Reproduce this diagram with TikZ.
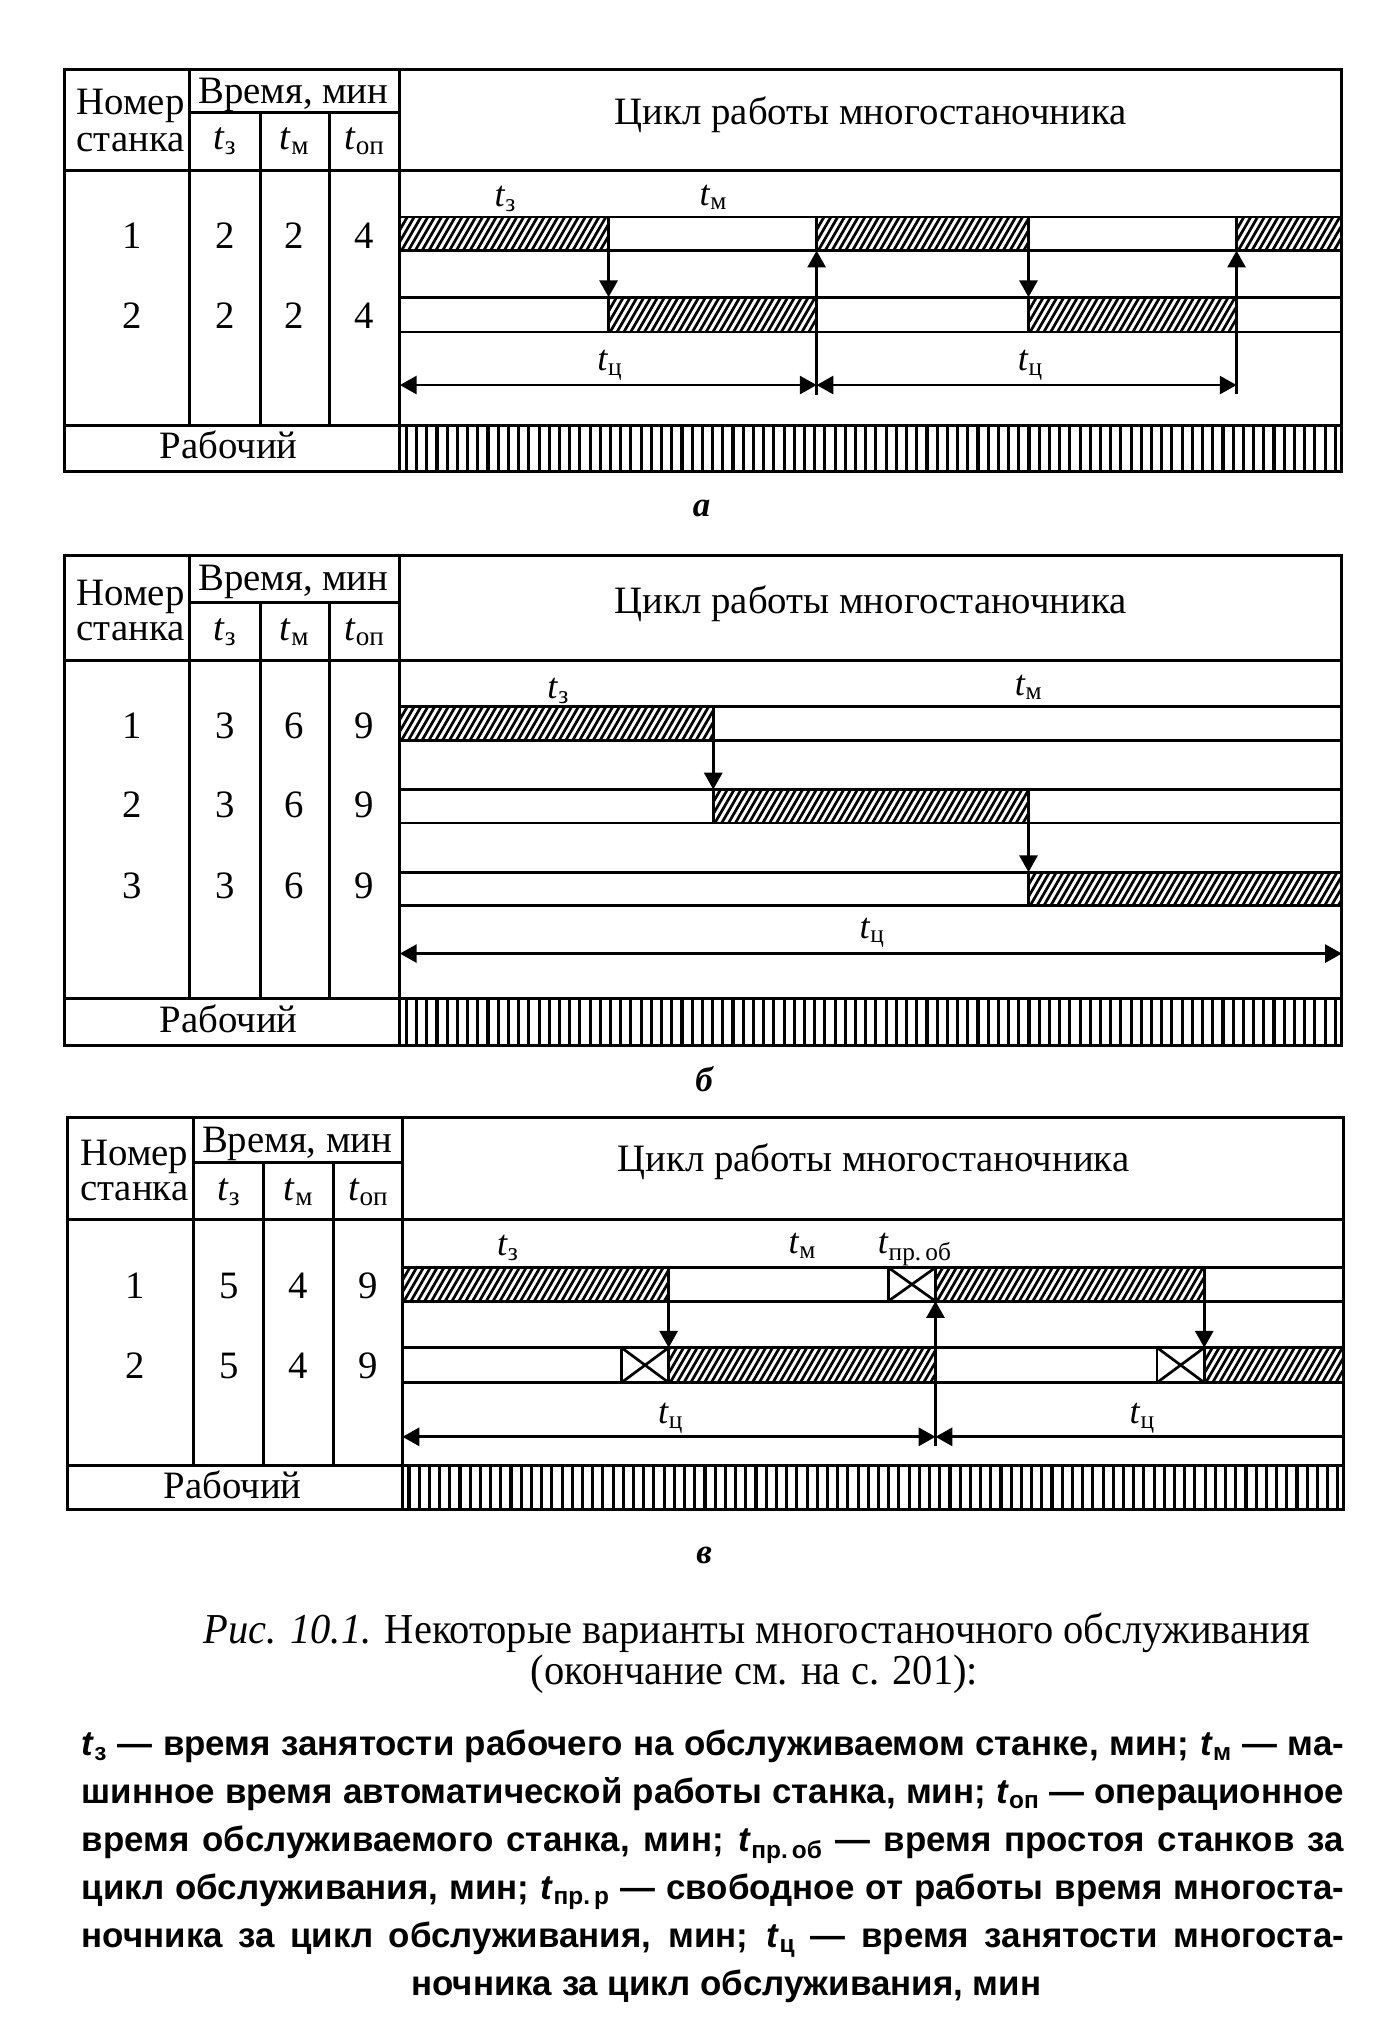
\documentclass[tikz,border=0pt]{standalone}
\usepackage{fontspec}
\setmainfont{Liberation Serif}
\newfontfamily\legfont{Liberation Sans}
\newfontfamily\capfont[FakeStretch=0.95]{Liberation Serif}
\usetikzlibrary{arrows.meta}

\newcommand\tsb[1]{\textit{t}\textsubscript{#1}}

\tikzset{
  frame/.style={line width=2.4pt},
  gl/.style={line width=2.1pt},
  arr/.style={line width=2.1pt,-{Triangle[length=13pt,width=14pt]}},
  darr/.style={line width=2.1pt,{Triangle[length=13pt,width=14pt]}-{Triangle[length=13pt,width=14pt]}},
  tab/.style={font=\fontsize{30}{32}\selectfont, inner sep=0pt, anchor=base},
  lab/.style={font=\fontsize{28}{30}\selectfont, inner sep=0pt, anchor=base},
  plet/.style={font=\fontsize{27}{29}\selectfont\bfseries\itshape, inner sep=0pt, anchor=base},
  leg/.style={font=\legfont\bfseries\fontsize{27}{37}\selectfont, inner sep=0pt, anchor=base west},
  capt/.style={font=\capfont\fontsize{33}{36}\selectfont, inner sep=0pt, anchor=base},
}

% hatched bar: x1 x2 y1(top) y2(bottom)
\newcommand\hatchbar[4]{%
  \begin{scope}
    \clip (#1,#3) rectangle (#2,#4);
    \fill[white] (#1,#3) rectangle (#2,#4);
    \pgfmathsetmacro\hstart{#1-20}%
    \pgfmathsetmacro\hnext{#1-20+5.3}%
    \foreach \k in {\hstart,\hnext,...,#2}
      \draw[line width=2.1pt] (\k,#4) -- ++({0.58*(#4-#3)},{-(#4-#3)});
  \end{scope}
  \draw[gl] (#1,#3) rectangle (#2,#4);
}
% idle box with a cross
\newcommand\idlebox[4]{%
  \fill[white] (#1,#3) rectangle (#2,#4);
  \draw[gl] (#1,#3) rectangle (#2,#4);
  \draw[gl] (#1,#3) -- (#2,#4);
  \draw[gl] (#1,#4) -- (#2,#3);
}
% frame: L T S H BT B
\newcommand\panelframe[6]{%
  \draw[frame] (#1,#2) rectangle (\xR,#6);
  \draw[frame] (#1,#4) -- (\xR,#4);
  \draw[frame] (#1,#5) -- (\xR,#5);
  \draw[frame] (\cA,#2) -- (\cA,#5);
  \draw[frame] (\cA,#3) -- (\cD,#3);
  \draw[frame] (\cB,#3) -- (\cB,#5);
  \draw[frame] (\cC,#3) -- (\cC,#5);
  \draw[frame] (\cD,#2) -- (\cD,#6);
}
% worker band: BT B
\newcommand\workband[2]{%
  \pgfmathsetmacro\wstart{\cD+5}%
  \pgfmathsetmacro\wnext{\cD+5+7.9}%
  \foreach \k in {\wstart,\wnext,...,\xR}
    \draw[line width=2.4pt] (\k,#1) -- (\k,#2);
}

\begin{document}
\begin{tikzpicture}[x=1pt,y=-1pt]
\useasboundingbox[fill=white] (0,0) rectangle (1073,1568);

%%%%%%%%%%%%%%%% PANEL A
\def\cA{147}\def\cB{201.5}\def\cC{255}\def\cD{309.5}\def\xR{1038.5}
\foreach \yy in {168,194,230,257} \draw[gl] (\cD,\yy) -- (\xR,\yy);
\hatchbar{309.5}{471}{168}{194}
\hatchbar{632}{796}{168}{194}
\hatchbar{957}{1038.5}{168}{194}
\hatchbar{471}{632}{230}{257}
\hatchbar{796}{957}{230}{257}
\workband{329}{365}
\panelframe{49.6}{54}{87}{132}{329}{365}

\node[tab] (aNom) at (101,89) {Номер};
\node[tab] (aSt) at (101,117.4) {станка};
\node[tab] (aVr) at (227,80) {Время, мин};
\node[tab] (aHz) at (174,116) {\tsb{з}};
\node[tab] (aHm) at (228,116) {\tsb{м}};
\node[tab] (aHo) at (282,116) {\tsb{оп}};
\node[tab] (aTit) at (674,96) {Цикл работы многостаночника};
\node[tab] (aN1) at (102,192) {1};
\node[tab] (aZ1) at (174,192) {2};
\node[tab] (aM1) at (228,192) {2};
\node[tab] (aO1) at (282,192) {4};
\node[tab] (aN2) at (102,254) {2};
\node[tab] (aZ2) at (174,254) {2};
\node[tab] (aM2) at (228,254) {2};
\node[tab] (aO2) at (282,254) {4};
\node[tab] (aRab) at (177,355) {Рабочий};

\node[lab] (aLz) at (391,160) {\tsb{з}};
\node[lab] (aLm) at (552,158.7) {\tsb{м}};
\node[lab] (aLc1) at (472,286.5) {\tsb{ц}};
\node[lab] (aLc2) at (797.5,286.5) {\tsb{ц}};

\coordinate (a1) at (471,194); \coordinate (a2) at (471,230);
\coordinate (a3) at (632,306); \coordinate (a4) at (632,194);
\coordinate (a5) at (796,194); \coordinate (a6) at (796,230);
\coordinate (a7) at (957,305); \coordinate (a8) at (957,194);
\coordinate (aC0) at (309.5,298); \coordinate (aC1) at (632,298); \coordinate (aC2) at (957,298);
\draw[arr] (a1) -- (a2);
\draw[arr] (a3) -- (a4);
\draw[arr] (a5) -- (a6);
\draw[arr] (a7) -- (a8);
\draw[darr] (aC0) -- (aC1);
\draw[darr] (aC1) -- (aC2);

\node[plet] (pa) at (543,400) {а};

%%%%%%%%%%%%%%%% PANEL B
\def\cA{147}\def\cB{201.5}\def\cC{255}\def\cD{309.5}\def\xR{1038.5}
\foreach \yy in {547,573,611,637,675,701} \draw[gl] (\cD,\yy) -- (\xR,\yy);
\hatchbar{309.5}{552}{547}{573}
\hatchbar{552}{796}{611}{637}
\hatchbar{796}{1038.5}{675}{701}
\workband{773}{809}
\panelframe{49.6}{430}{466}{511.5}{773}{809}

\node[tab] (bNom) at (101,468.4) {Номер};
\node[tab] (bSt) at (101,495.5) {станка};
\node[tab] (bVr) at (227,456.8) {Время, мин};
\node[tab] (bHz) at (174,495.5) {\tsb{з}};
\node[tab] (bHm) at (228,495.5) {\tsb{м}};
\node[tab] (bHo) at (282,495.5) {\tsb{оп}};
\node[tab] (bTit) at (674,475) {Цикл работы многостаночника};
\node[tab] (bN1) at (102,571.5) {1};
\node[tab] (bZ1) at (174,571.5) {3};
\node[tab] (bM1) at (228,571.5) {6};
\node[tab] (bO1) at (282,571.5) {9};
\node[tab] (bN2) at (102,633) {2};
\node[tab] (bZ2) at (174,633) {3};
\node[tab] (bM2) at (228,633) {6};
\node[tab] (bO2) at (282,633) {9};
\node[tab] (bN3) at (102,695.3) {3};
\node[tab] (bZ3) at (174,695.3) {3};
\node[tab] (bM3) at (228,695.3) {6};
\node[tab] (bO3) at (282,695.3) {9};
\node[tab] (bRab) at (177,799) {Рабочий};

\node[lab] (bLz) at (432,540.5) {\tsb{з}};
\node[lab] (bLm) at (796,538) {\tsb{м}};
\node[lab] (bLc) at (675,726) {\tsb{ц}};

\coordinate (b1) at (552,573); \coordinate (b2) at (552,611);
\coordinate (b3) at (796,637); \coordinate (b4) at (796,675);
\coordinate (bC0) at (309.5,738); \coordinate (bC1) at (1038.5,738);
\draw[arr] (b1) -- (b2);
\draw[arr] (b3) -- (b4);
\draw[darr] (bC0) -- (bC1);

\node[plet] (pb) at (545,845) {б};

%%%%%%%%%%%%%%%% PANEL C
\def\cA{150}\def\cB{204}\def\cC{258}\def\cD{311.5}\def\xR{1040}
\foreach \yy in {981,1007,1043,1070} \draw[gl] (\cD,\yy) -- (\xR,\yy);
\hatchbar{311.5}{517.5}{981}{1007}
\idlebox{481}{517.5}{1043}{1070}
\hatchbar{517.5}{724}{1043}{1070}
\idlebox{687.5}{724}{981}{1007}
\hatchbar{724}{932}{981}{1007}
\idlebox{895.5}{932}{1043}{1070}
\hatchbar{932}{1040}{1043}{1070}
\workband{1134.5}{1168}
\panelframe{52}{865}{899.5}{944}{1134.5}{1168}

\node[tab] (cNom) at (104,902) {Номер};
\node[tab] (cSt) at (104,929) {станка};
\node[tab] (cVr) at (230,891.6) {Время, мин};
\node[tab] (cHz) at (177,929) {\tsb{з}};
\node[tab] (cHm) at (231,929) {\tsb{м}};
\node[tab] (cHo) at (285,929) {\tsb{оп}};
\node[tab] (cTit) at (676,907) {Цикл работы многостаночника};
\node[tab] (cN1) at (105,1005) {1};
\node[tab] (cZ1) at (177,1005) {5};
\node[tab] (cM1) at (231,1005) {4};
\node[tab] (cO1) at (285,1005) {9};
\node[tab] (cN2) at (105,1067) {2};
\node[tab] (cZ2) at (177,1067) {5};
\node[tab] (cM2) at (231,1067) {4};
\node[tab] (cO2) at (285,1067) {9};
\node[tab] (cRab) at (180,1160) {Рабочий};

\node[lab] (cLz) at (393,971.6) {\tsb{з}};
\node[lab] (cLm) at (621,970.5) {\tsb{м}};
\node[lab] (cLp) at (708,970) {\tsb{пр.\,об}};
\node[lab] (cLc1) at (519,1101.8) {\tsb{ц}};
\node[lab] (cLc2) at (884,1101.8) {\tsb{ц}};

\coordinate (c1) at (517.5,1007); \coordinate (c2) at (517.5,1043);
\coordinate (c3) at (724,1119); \coordinate (c4) at (724,1007);
\coordinate (c5) at (932,1007); \coordinate (c6) at (932,1043);
\coordinate (cC0) at (311.5,1112); \coordinate (cC1) at (724,1112); \coordinate (cC2) at (1040,1112);
\draw[arr] (c1) -- (c2);
\draw[arr] (c3) -- (c4);
\draw[arr] (c5) -- (c6);
\draw[darr] (cC0) -- (cC1);
\draw[arr] (cC2) -- (cC1);

\node[plet] (pc) at (545,1210) {в};

%%%%%%%%%%%%%%%% CAPTION AND LEGEND
\node[capt] (cap1) at (586,1272)
  {\textit{Рис. 10.1.} Некоторые варианты многостаночного обслуживания};
\node[capt] (cap2) at (584,1304)
  {(окончание см. на с. 201):};

\node[leg] (lg1) at (63,1359) {\makebox[977pt][s]{\tsb{з} — время занятости рабочего на обслуживаемом станке, мин; \tsb{м} — ма-}};
\node[leg] (lg2) at (63,1396) {\makebox[977pt][s]{шинное время автоматической работы станка, мин; \tsb{оп} — операционное}};
\node[leg] (lg3) at (63,1433) {\makebox[977pt][s]{время обслуживаемого станка, мин; \tsb{пр.\,об} — время простоя станков за}};
\node[leg] (lg4) at (63,1470) {\makebox[977pt][s]{цикл обслуживания, мин; \tsb{пр.\,р} — свободное от работы время многоста-}};
\node[leg] (lg5) at (63,1507) {\makebox[977pt][s]{ночника за цикл обслуживания, мин; \tsb{ц} — время занятости многоста-}};
\node[leg, anchor=base] (lg6) at (562,1544) {ночника за цикл обслуживания, мин};
\end{tikzpicture}
\end{document}
